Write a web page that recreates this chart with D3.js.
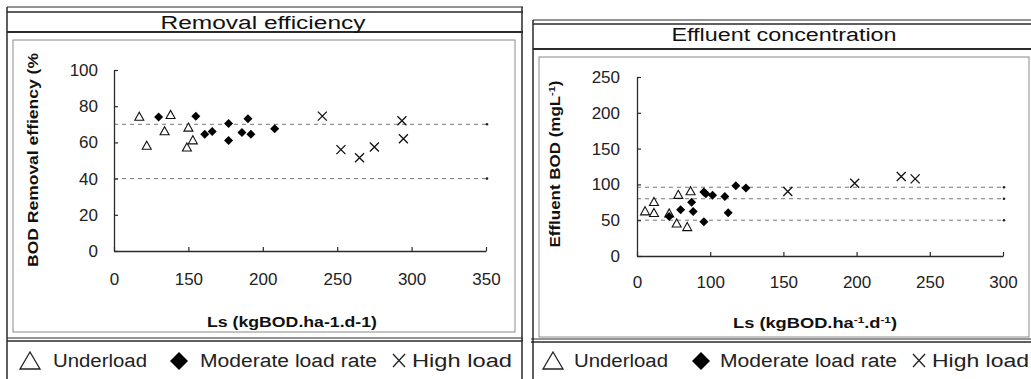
<!DOCTYPE html>
<html><head><meta charset="utf-8">
<script src="https://cdn.jsdelivr.net/npm/d3@7"></script>
<style>
html,body{margin:0;padding:0;background:#fff;}
svg{display:block;font-family:"Liberation Sans",Arial,sans-serif;}
</style></head>
<body>
<svg id="c" width="1031" height="379"></svg>
<script>
// ---------- DATA ----------
// Left panel: Removal efficiency (x axis is broken: first tick "0" stands at 100)
const leftXTicks = [100, 150, 200, 250, 300, 350];
const leftXTickLabels = ["0", "150", "200", "250", "300", "350"];
const leftYTicks = [0, 20, 40, 60, 80, 100];
const leftRefLines = [70, 40];
const leftUnderload = [[117,74],[122,58],[134,66],[138,75],[150,68],[149,57],[153,61]];
const leftModerate = [[130,74],[155,74.5],[161,64.5],[166,66],[177,70.5],[177,61],[186,65.5],[190,73],[192,64.5],[208,67.5]];
const leftHigh = [[240,74.5],[252.5,56],[265,51.5],[275,57.5],[293.5,72],[294.5,62]];

// Right panel: Effluent concentration (x axis broken: first tick "0" stands at 50)
const rightXTicks = [50, 100, 150, 200, 250, 300];
const rightXTickLabels = ["0", "100", "150", "200", "250", "300"];
const rightYTicks = [0, 50, 100, 150, 200, 250];
const rightRefLines = [96, 80, 50];
const rightUnderload = [[55.5,62],[61.6,75],[61.6,59.7],[72,59],[78.2,85],[77.1,45],[86.6,90],[84.3,40]];
const rightModerate = [[72,55],[79.8,64.5],[87.3,75],[88.4,62],[95.7,89.5],[97,87],[101.6,85],[110,83],[95.7,48],[112.3,60.5],[117.5,98],[124.4,95]];
const rightHigh = [[153,90],[198.7,101.7],[230.5,111],[240,107.7]];

const legendLabels = ["Underload", "Moderate load rate", "High load"];

// ---------- DRAW ----------
const svg = d3.select("#c");
const dark = "#2a2a2a", frameGray = "#8a8a8a";

function box(x1,y1,x2,y2,stroke,w){
  svg.append("rect").attr("x",x1).attr("y",y1).attr("width",x2-x1).attr("height",y2-y1)
    .attr("fill","none").attr("stroke",stroke).attr("stroke-width",w);
}
function hline(x1,x2,y,stroke,w){
  svg.append("line").attr("x1",x1).attr("x2",x2).attr("y1",y).attr("y2",y)
    .attr("stroke",stroke).attr("stroke-width",w);
}
function vline(x,y1,y2,stroke,w){
  svg.append("line").attr("x1",x).attr("x2",x).attr("y1",y1).attr("y2",y2)
    .attr("stroke",stroke).attr("stroke-width",w);
}

function marker(g, type, x, y, s){
  if(type==="tri"){
    const h = s*0.9;
    g.append("path").attr("d",`M${x},${y-h*0.6}L${x+s/2},${y+h*0.4}L${x-s/2},${y+h*0.4}Z`)
      .attr("fill","#fff").attr("stroke","#111").attr("stroke-width",1.1);
  } else if(type==="dia"){
    g.append("path").attr("d",`M${x},${y-s/2}L${x+s/2},${y}L${x},${y+s/2}L${x-s/2},${y}Z`)
      .attr("fill","#000");
  } else {
    const r = s/2;
    g.append("path").attr("d",`M${x-r},${y-r}L${x+r},${y+r}M${x+r},${y-r}L${x-r},${y+r}`)
      .attr("stroke","#111").attr("stroke-width",1.3).attr("fill","none");
  }
}

function panel(cfg){
  const x = d3.scaleLinear().domain(cfg.xDomain).range(cfg.xRange);
  const y = d3.scaleLinear().domain(cfg.yDomain).range(cfg.yRange);
  const g = svg.append("g");

  cfg.ref.forEach(v=>{
    g.append("line").attr("x1",x(cfg.xDomain[0])).attr("x2",x(cfg.xDomain[1]))
      .attr("y1",y(v)).attr("y2",y(v)).attr("stroke","#777").attr("stroke-width",1)
      .attr("stroke-dasharray","4,4");
    g.append("circle").attr("cx",x(cfg.xDomain[1])+1).attr("cy",y(v)).attr("r",1.3).attr("fill","#222");
  });

  const xa = d3.axisBottom(x).tickValues(cfg.xTicks)
    .tickFormat((d,i)=>cfg.xLabels[i]).tickSizeInner(-4).tickSizeOuter(0).tickPadding(cfg.xPad);
  const ya = d3.axisLeft(y).tickValues(cfg.yTicks)
    .tickSizeInner(-4).tickSizeOuter(0).tickPadding(cfg.yPad);
  const gx = g.append("g").attr("transform",`translate(0,${cfg.yRange[0]})`).call(xa);
  const gy = g.append("g").attr("transform",`translate(${cfg.xRange[0]},0)`).call(ya);
  [gx,gy].forEach(a=>{
    a.select(".domain").attr("stroke",dark).attr("stroke-width",1.3);
    a.selectAll(".tick line").attr("stroke",dark).attr("stroke-width",1.2);
    a.selectAll(".tick text").attr("font-size",17).attr("fill","#222")
      .attr("font-family","'Liberation Sans',Arial,sans-serif");
  });

  cfg.under.forEach(d=>marker(g,"tri",x(d[0]),y(d[1]),9));
  cfg.mod.forEach(d=>marker(g,"dia",x(d[0]),y(d[1]),9));
  cfg.high.forEach(d=>marker(g,"x",x(d[0]),y(d[1]),9));
}

// ----- Left panel frames -----
hline(7,523,7,dark,1.2);
hline(7,523,12,dark,1.5);
hline(7,523,32,dark,2);
vline(7,7,379,dark,1.5);
vline(522,7,379,dark,1.5);
box(13,40,515,332,frameGray,1);
hline(7,523,338,dark,1.2);
hline(7,523,341,dark,1.5);

// ----- Right panel frames -----
hline(533,1031,20,dark,1.2);
hline(533,1031,24,dark,1.5);
hline(533,1031,49,dark,2);
vline(533,20,379,dark,1.5);
box(539,57,1029,337,frameGray,1);
hline(531,1031,339,dark,1.2);
hline(531,1031,342,dark,1.5);

// titles
svg.append("text").attr("x",263).attr("y",29).attr("text-anchor","middle")
  .attr("font-size",18).attr("fill","#111").attr("textLength",205).attr("lengthAdjust","spacingAndGlyphs")
  .text("Removal efficiency");
svg.append("text").attr("x",784).attr("y",41).attr("text-anchor","middle")
  .attr("font-size",18).attr("fill","#111").attr("textLength",225).attr("lengthAdjust","spacingAndGlyphs")
  .text("Effluent concentration");

panel({xDomain:[100,350], xRange:[114,486], yDomain:[0,100], yRange:[251,70],
  xTicks:leftXTicks, xLabels:leftXTickLabels, yTicks:leftYTicks, xPad:22, yPad:16,
  ref:leftRefLines, under:leftUnderload, mod:leftModerate, high:leftHigh});
panel({xDomain:[50,300], xRange:[637,1003], yDomain:[0,250], yRange:[256,77],
  xTicks:rightXTicks, xLabels:rightXTickLabels, yTicks:rightYTicks, xPad:20, yPad:17,
  ref:rightRefLines, under:rightUnderload, mod:rightModerate, high:rightHigh});

// axis titles
svg.append("text").attr("x",292).attr("y",327).attr("text-anchor","middle")
  .attr("font-size",14).attr("font-weight","bold").attr("fill","#111")
  .attr("textLength",170).attr("lengthAdjust","spacingAndGlyphs")
  .text("Ls (kgBOD.ha-1.d-1)");
const xr = svg.append("text").attr("x",815).attr("y",328).attr("text-anchor","middle")
  .attr("font-size",14).attr("font-weight","bold").attr("fill","#111")
  .attr("textLength",164).attr("lengthAdjust","spacingAndGlyphs");
xr.append("tspan").text("Ls (kgBOD.ha");
xr.append("tspan").attr("dy",-5).attr("font-size",9).text("-1");
xr.append("tspan").attr("dy",5).text(".d");
xr.append("tspan").attr("dy",-5).attr("font-size",9).text("-1");
xr.append("tspan").attr("dy",5).text(")");

svg.append("text").attr("transform","translate(38,160) rotate(-90)").attr("text-anchor","middle")
  .attr("font-size",14).attr("font-weight","bold").attr("fill","#111")
  .attr("textLength",214).attr("lengthAdjust","spacingAndGlyphs")
  .text("BOD Removal effiency (%");
const yr = svg.append("text").attr("transform","translate(560,164) rotate(-90)").attr("text-anchor","middle")
  .attr("font-size",14).attr("font-weight","bold").attr("fill","#111")
  .attr("textLength",167).attr("lengthAdjust","spacingAndGlyphs");
yr.append("tspan").text("Effluent BOD (mgL");
yr.append("tspan").attr("dy",-5).attr("font-size",9).text("-1");
yr.append("tspan").attr("dy",5).text(")");

// legends
function legend(p){
  const g = svg.append("g");
  const cy = 361;
  g.append("path").attr("d",`M${p.tri+10},${cy-9}L${p.tri+20},${cy+8}L${p.tri},${cy+8}Z`)
    .attr("fill","none").attr("stroke","#222").attr("stroke-width",1.3);
  g.append("text").attr("x",p.t1).attr("y",cy+6).attr("font-size",18).attr("fill","#222")
    .attr("textLength",94).attr("lengthAdjust","spacingAndGlyphs").text(legendLabels[0]);
  g.append("path").attr("d",`M${p.dia},${cy-9}L${p.dia+9},${cy}L${p.dia},${cy+9}L${p.dia-9},${cy}Z`).attr("fill","#000");
  g.append("text").attr("x",p.t2).attr("y",cy+6).attr("font-size",18).attr("fill","#222")
    .attr("textLength",177).attr("lengthAdjust","spacingAndGlyphs").text(legendLabels[1]);
  g.append("path").attr("d",`M${p.x},${cy-7}L${p.x+12},${cy+6}M${p.x+12},${cy-7}L${p.x},${cy+6}`)
    .attr("stroke","#222").attr("stroke-width",1.3);
  g.append("text").attr("x",p.t3).attr("y",cy+6).attr("font-size",18).attr("fill","#222")
    .attr("textLength",p.w3).attr("lengthAdjust","spacingAndGlyphs").text(legendLabels[2]);
}
legend({tri:20, t1:53, dia:179, t2:200, x:393, t3:412, w3:100});
legend({tri:543, t1:574, dia:701, t2:720, x:913, t3:932, w3:97});
</script>
</body></html>
